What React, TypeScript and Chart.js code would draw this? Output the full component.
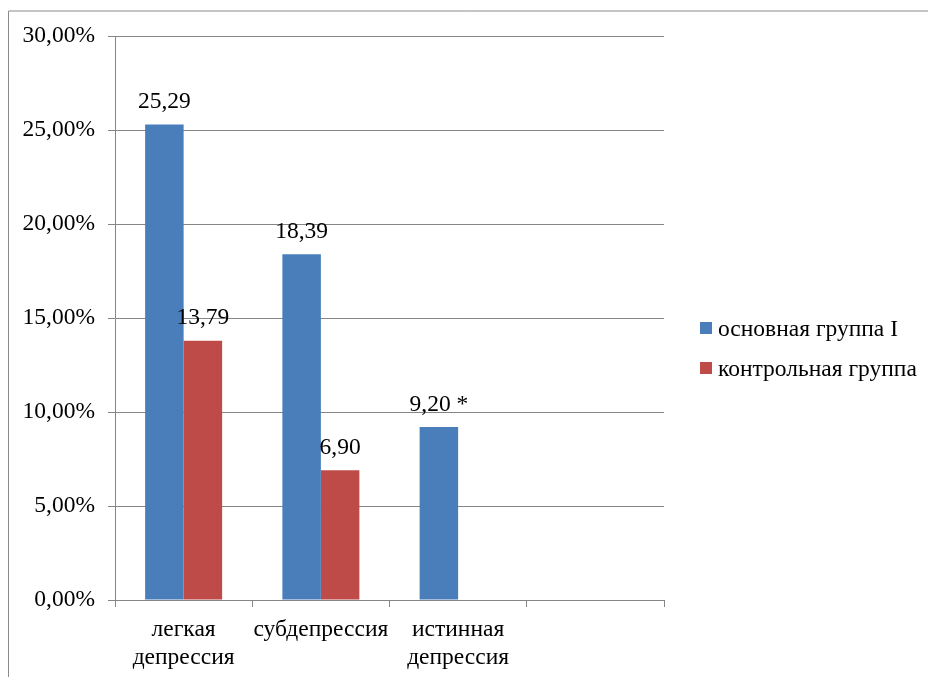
import React, { useEffect, useRef } from "react";
import { Chart, registerables } from "chart.js";

Chart.register(...registerables);

const categories: (string | string[])[] = [
  ["легкая", "депрессия"],
  "субдепрессия",
  ["истинная", "депрессия"],
  "",
];
const seriesNames = ["основная группа I", "контрольная группа"];
const mainGroup: (number | null)[] = [25.29, 18.39, 9.2, null];
const controlGroup: (number | null)[] = [13.79, 6.9, null, null];
const mainMarks = ["", "", " *", ""];
const controlMarks = ["", "", "", ""];
const yTicksMin = 0;
const yTicksMax = 30;
const yTicksStep = 5;

const FONT = "'Liberation Serif'";
const GRID = "#868686";
const BLUE = "#4A7EBB";
const RED = "#BE4B48";

const fmt = (v: number) => v.toFixed(2).replace(".", ",");

const framePlugin = {
  id: "frame",
  beforeDraw(chart: any) {
    const ctx = chart.ctx;
    ctx.save();
    ctx.strokeStyle = "#8a8a8a";
    ctx.lineWidth = 1;
    ctx.beginPath();
    ctx.moveTo(8.5, chart.height);
    ctx.lineTo(8.5, 11);
    ctx.lineTo(chart.width, 11);
    ctx.stroke();
    ctx.restore();
  },
};

const labelsPlugin = {
  id: "barLabels",
  afterDatasetsDraw(chart: any) {
    const ctx = chart.ctx;
    const marks = [mainMarks, controlMarks];
    ctx.save();
    ctx.fillStyle = "#000";
    ctx.font = `23.5px ${FONT}`;
    ctx.textAlign = "center";
    ctx.textBaseline = "alphabetic";
    chart.data.datasets.forEach((ds: any, di: number) => {
      const meta = chart.getDatasetMeta(di);
      meta.data.forEach((bar: any, i: number) => {
        const v = ds.data[i];
        if (v === null || v === undefined) return;
        ctx.fillText(fmt(v) + marks[di][i], bar.x, bar.y - 16.5);
      });
    });
    ctx.restore();
  },
};

const legendPlugin = {
  id: "sideLegend",
  afterDraw(chart: any) {
    const ctx = chart.ctx;
    ctx.save();
    ctx.font = `23.5px ${FONT}`;
    ctx.textAlign = "left";
    ctx.textBaseline = "alphabetic";
    chart.data.datasets.forEach((ds: any, i: number) => {
      const top = 322 + i * 40;
      ctx.fillStyle = ds.backgroundColor;
      ctx.fillRect(700, top, 12, 12);
      ctx.fillStyle = "#000";
      ctx.fillText(ds.label, 718, top + 14);
    });
    ctx.restore();
  },
};

export default function App() {
  const ref = useRef<HTMLCanvasElement | null>(null);

  useEffect(() => {
    if (!ref.current) return;
    const chart = new Chart(ref.current, {
      type: "bar",
      data: {
        labels: categories,
        datasets: [
          {
            label: seriesNames[0],
            data: mainGroup,
            backgroundColor: BLUE,
            categoryPercentage: 0.561,
            barPercentage: 1,
          },
          {
            label: seriesNames[1],
            data: controlGroup,
            backgroundColor: RED,
            categoryPercentage: 0.561,
            barPercentage: 1,
          },
        ],
      },
      options: {
        responsive: false,
        animation: false,
        events: [],
        font: { family: FONT },
        layout: { padding: { left: 0, top: 36, right: 264, bottom: 0 } },
        plugins: {
          legend: { display: false },
          tooltip: { enabled: false },
          title: { display: false },
        },
        scales: {
          x: {
            offset: true,
            grid: {
              display: true,
              offset: true,
              drawOnChartArea: false,
              drawTicks: true,
              tickLength: 7,
              color: GRID,
            },
            border: { display: true, color: GRID },
            ticks: {
              color: "#000",
              font: { family: FONT, size: 23.5, lineHeight: 1.2 },
              padding: 9,
              maxRotation: 0,
              autoSkip: false,
            },
            afterFit(scale: any) {
              scale.height = 77;
            },
          },
          y: {
            min: yTicksMin,
            max: yTicksMax,
            grid: {
              color: GRID,
              drawTicks: true,
              tickLength: 7,
            },
            border: { display: true, color: GRID },
            ticks: {
              stepSize: yTicksStep,
              color: "#000",
              font: { family: FONT, size: 23.5 },
              padding: 13,
              callback: (v: any) => fmt(Number(v)) + "%",
            },
            afterFit(scale: any) {
              scale.width = 115;
            },
          },
        },
      },
      plugins: [framePlugin, labelsPlugin, legendPlugin],
    });
    return () => chart.destroy();
  }, []);

  return (
    <div style={{ position: "fixed", left: 0, top: 0, width: 928, height: 677, background: "#fff" }}>
      <canvas ref={ref} width={928} height={677} />
    </div>
  );
}
